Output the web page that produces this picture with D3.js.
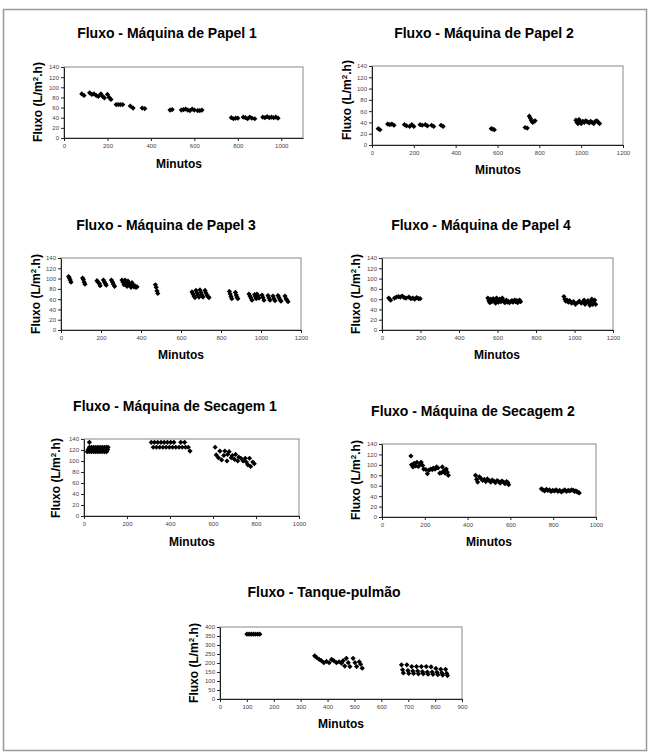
<!DOCTYPE html>
<html><head><meta charset="utf-8">
<script src="https://cdn.jsdelivr.net/npm/d3@7"></script>
<style>
html,body{margin:0;padding:0;background:#fff;}
svg{display:block;font-family:"Liberation Sans",Arial,sans-serif;}
</style></head>
<body>
<svg id="c" width="654" height="754"></svg>
<script>
// ---------- DATA ----------
const titles = ["Fluxo - Máquina de Papel 1","Fluxo - Máquina de Papel 2","Fluxo - Máquina de Papel 3","Fluxo - Máquina de Papel 4","Fluxo - Máquina de Secagem 1","Fluxo - Máquina de Secagem 2","Fluxo - Tanque-pulmão"];
const xAxisTitle = "Minutos";
const yAxisTitle = "Fluxo (L/m";

const minutos1 = [82,92, 118,128,138,148,158, 170,178,186, 200,208,216, 240,250,260,270, 305,318, 360,372, 488,498, 540,550,560,570,580,590,600,615,625,635, 770,780,790,800, 825,835,845,855,865,878, 915,925,935,945,955,965,975,985];
const fluxo1   = [87,84, 89,86,87,84,82, 87,82,79, 86,80,76, 66,66,66,66, 63,59, 59,58, 55,56, 55,56,57,55,54,57,55,54,54,55, 40,38,39,39, 41,40,38,41,39,38, 41,40,42,40,41,40,41,39];

const minutos2 = [30,38, 75,85,95,105, 155,165,180, 190,200, 230,240,255,265, 285,295, 330,340, 570,578,585, 732,742, 752,758,762,768,775,780, 975,980,985,990,995,1000,1008,1015,1022,1030,1038,1045,1052,1060,1068,1075,1082,1088];
const fluxo2   = [29,27, 37,36,37,35, 36,34,33, 36,33, 36,35,36,34, 35,33, 35,33, 29,28,27, 31,30, 51,47,43,40,42,43, 44,40,38,45,41,38,42,40,43,41,39,42,40,38,42,43,40,38];

const minutos3 = [38,42,46,50, 108,112,116,120, 180,185,192,196, 212,218,222,226, 252,258,262,268, 305,310,315,320,325,330, 335,340,345,350,355,360,365,370,375,380, 472,476,480,484, 655,660,665,670,675,680,685,690,695,700,705,710,720,725,730,735,740, 842,846,850,854, 872,876,880,884, 940,945,950,955, 968,972,976,980,985,990, 1005,1010,1015, 1035,1040,1045, 1060,1065,1070, 1085,1090,1095,1100, 1120,1125,1130,1135];
const fluxo3   = [104,101,97,93, 101,98,93,89, 96,93,90,86, 97,93,90,87, 97,93,89,85, 97,93,88,97,90,85, 95,90,86,83,92,88,84,86,83,84, 88,83,76,71, 74,70,66,63,77,72,68,64,78,73,68,64,77,72,68,65,63, 75,70,65,61, 73,68,64,61, 70,66,62,58, 69,65,61,70,66,62, 68,63,58, 67,62,58, 66,61,57, 67,63,59,56, 66,61,58,55];

const minutos4 = [35,45, 65,75,85,95,105,115,125,140,150,160,170,180,190,198, 550,555,560,565,570,578,585,590,595,600,605,612,618,625,630,638,645,650,655,662,668,675,680,685,690,695,700,705,710,715,720, 945,950,955,962,968,975,985,995,1005,1015,1025,1035,1045,1050,1055,1060,1070,1075,1080,1085,1090,1095,1100,1105,1110];
const fluxo4   = [62,58, 62,64,65,64,66,63,62,64,61,62,60,63,61,61, 62,57,53,60,55,61,56,52,62,58,54,60,55,62,57,53,58,54,56,53,55,57,54,56,58,55,57,53,56,58,55, 65,60,56,58,54,57,52,55,50,53,56,52,55,58,50,54,57,52,48,56,60,50,54,58,50];

const minutos5 = [15,25,35,45,55,65,75,85,95,105, 20,30,40,50,60,70,80,90,100,110, 25,35,45,55,65,75,85,95,105,112, 25,
  313,328,343,358,373,388,403,418,450,468, 322,337,352,367,382,397,412,427,442,457,472,485, 493,
  610,615,625,632,640,650,655,665,668,675,685,690,700,705,715,720,730,740,750,755,762,770,775,785,792];
const fluxo5   = [117,117,117,117,117,117,117,117,117,117, 121,121,121,121,121,121,121,121,121,121, 125,125,125,125,125,125,125,125,125,125, 134,
  134,134,134,134,134,134,134,134,134,134, 125,125,125,125,125,125,125,125,125,125,125,125, 118,
  125,111,106,118,102,110,118,100,112,117,106,110,103,112,100,107,105,100,105,98,93,105,90,98,95];

const minutos6 = [135,138,145,150,158,163,170,178,183,190,195,205,212,220,228,235,240,248,255,262,270,278,282,290,295,300,305,310,
  437,442,447,455,462,470,478,485,492,500,508,515,522,530,538,545,552,560,568,575,582,588,592,
  745,752,760,768,775,783,790,798,806,814,822,830,838,846,854,862,870,878,886,894,900,906,912,918,922];
const fluxo6   = [117,100,96,103,98,105,97,102,105,99,92,91,83,90,92,91,94,92,96,94,84,85,96,89,84,92,86,80,
  80,72,67,77,74,70,72,68,73,70,67,71,69,66,70,68,65,69,67,64,68,66,62,
  54,52,50,53,51,52,49,51,50,52,49,51,48,50,52,49,51,50,52,51,49,50,48,47,46];

const minutos7 = [100,108,116,124,132,140,148,
  352,359,369,377,386,396,406,415,423,433,443,452,458,464,470,477,483,495,502,508,518,523,529,
  675,679,682, 695,699,702, 713,717,720, 731,735,738, 749,753,756, 767,771,774, 785,789,792, 803,807,810, 821,825,828, 839,843,846];
const fluxo7   = [360,360,360,360,360,360,360,
  240,231,220,213,202,209,202,220,213,202,207,198,213,183,226,202,180,226,202,180,207,193,171,
  190,162,145, 190,158,142, 180,155,142, 180,155,140, 180,152,140, 180,150,138, 178,150,137, 170,148,135, 165,145,133, 165,142,130];

const xTicks1 = [0,200,400,600,800,1000];
const xTicks2 = [0,200,400,600,800,1000,1200];
const xTicks7 = [0,100,200,300,400,500,600,700,800,900];
const yTicks140 = [0,20,40,60,80,100,120,140];
const yTicks400 = [0,50,100,150,200,250,300,350,400];

// ---------- LAYOUT ----------
const panels = [
  {t:0, xs:minutos1, ys:fluxo1, xMax:1100, xt:xTicks1, yMax:140, yt:yTicks140, L:64, R:303, T:67, B:138, tx:167, ty:38, lx:38, ly:102, mx:179, my:168},
  {t:1, xs:minutos2, ys:fluxo2, xMax:1200, xt:xTicks2, yMax:140, yt:yTicks140, L:372, R:623, T:66, B:145, tx:484, ty:38, lx:347, ly:100, mx:498, my:174},
  {t:2, xs:minutos3, ys:fluxo3, xMax:1200, xt:xTicks2, yMax:140, yt:yTicks140, L:61, R:301, T:258, B:330, tx:166, ty:230, lx:36, ly:294, mx:181, my:359},
  {t:3, xs:minutos4, ys:fluxo4, xMax:1200, xt:xTicks2, yMax:140, yt:yTicks140, L:382, R:613, T:258, B:330, tx:481, ty:230, lx:356, ly:294, mx:497, my:359},
  {t:4, xs:minutos5, ys:fluxo5, xMax:1000, xt:xTicks1, yMax:140, yt:yTicks140, L:84, R:299, T:439, B:516, tx:175, ty:411, lx:56, ly:478, mx:192, my:546},
  {t:5, xs:minutos6, ys:fluxo6, xMax:1000, xt:xTicks1, yMax:140, yt:yTicks140, L:382, R:596, T:444, B:517, tx:473, ty:416, lx:356, ly:480, mx:489, my:546},
  {t:6, xs:minutos7, ys:fluxo7, xMax:900, xt:xTicks7, yMax:400, yt:yTicks400, L:220, R:462, T:627, B:699, tx:324, ty:597, lx:194, ly:663, mx:341, my:728}
];

const svg = d3.select("#c");
svg.append("rect").attr("x",3.5).attr("y",9.5).attr("width",643).attr("height",741)
  .attr("fill","none").attr("stroke","#999").attr("stroke-width",1.5);

const diamond = "M0,-2.6L2.6,0L0,2.6L-2.6,0Z";

panels.forEach(p => {
  const g = svg.append("g");
  const x = d3.scaleLinear().domain([0,p.xMax]).range([p.L,p.R]);
  const y = d3.scaleLinear().domain([0,p.yMax]).range([p.B,p.T]);
  g.append("rect").attr("x",p.L).attr("y",p.T).attr("width",p.R-p.L).attr("height",p.B-p.T)
    .attr("fill","#fff").attr("stroke","#888").attr("stroke-width",1);
  const ax = g.append("g").attr("transform",`translate(0,${p.B})`)
    .call(d3.axisBottom(x).tickValues(p.xt).tickSize(3).tickSizeOuter(0).tickPadding(3).tickFormat(d3.format("d")));
  const ay = g.append("g").attr("transform",`translate(${p.L},0)`)
    .call(d3.axisLeft(y).tickValues(p.yt).tickSize(3).tickSizeOuter(0).tickPadding(2).tickFormat(d3.format("d")));
  [ax,ay].forEach(a=>{
    a.selectAll("text").attr("font-size","6px").attr("fill","#444").attr("font-family","Liberation Sans, Arial");
    a.selectAll("line,path").attr("stroke","#222");
  });
  g.selectAll("path.pt").data(p.xs.map((v,i)=>[v,p.ys[i]])).enter().append("path")
    .attr("class","pt").attr("d",diamond)
    .attr("transform",d=>`translate(${x(d[0])},${y(d[1])})`).attr("fill","#000");
  g.append("text").attr("x",p.tx).attr("y",p.ty).attr("text-anchor","middle")
    .attr("font-size","14px").attr("font-weight","bold").text(titles[p.t]);
  g.append("text").attr("x",p.mx).attr("y",p.my).attr("text-anchor","middle")
    .attr("font-size","12px").attr("font-weight","bold").text(xAxisTitle);
  const yl = g.append("text").attr("transform",`translate(${p.lx},${p.ly}) rotate(-90)`)
    .attr("text-anchor","middle").attr("dy","0.35em").attr("font-size","12px").attr("font-weight","bold");
  yl.append("tspan").text(yAxisTitle);
  yl.append("tspan").attr("font-size","8px").attr("dy","-4").text("2");
  yl.append("tspan").attr("dy","4").text(".h)");
});
</script>
</body></html>
